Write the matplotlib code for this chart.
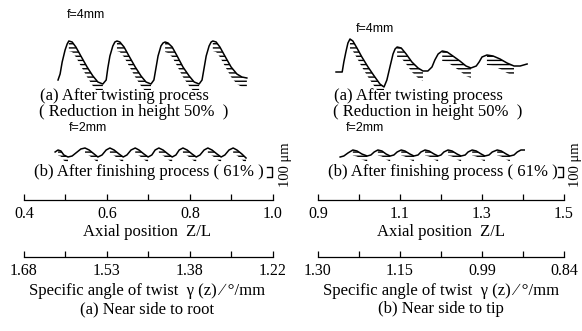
import numpy as np
import matplotlib
matplotlib.use("Agg")
import matplotlib.pyplot as plt

plt.rcParams['font.family'] = ['Liberation Serif', 'DejaVu Serif']
plt.rcParams['hatch.linewidth'] = 1.0

W, H = 582, 331

# surface profiles: axial position Z/L, height in um
# (a) near root, after twisting
root_twist_z = [0.482, 0.487, 0.492, 0.499, 0.504, 0.508, 0.516, 0.525, 0.537, 0.552, 0.566, 0.578, 0.590,
                0.598, 0.602, 0.607, 0.614, 0.619, 0.624, 0.631, 0.641, 0.653, 0.668, 0.682, 0.694, 0.706,
                0.713, 0.718, 0.723, 0.730, 0.735, 0.740, 0.747, 0.757, 0.769, 0.783, 0.798, 0.810, 0.822,
                0.829, 0.834, 0.839, 0.846, 0.851, 0.855, 0.863, 0.872, 0.884, 0.899, 0.913, 0.925, 0.937]
root_twist_h = [50, 110, 230, 350, 410, 440, 430, 380, 290, 180, 90, 30, 10,
                50, 170, 290, 390, 430, 440, 430, 380, 290, 180, 90, 30, 10,
                50, 170, 290, 390, 420, 430, 420, 380, 290, 180, 90, 30, 10,
                50, 170, 290, 390, 430, 440, 430, 380, 290, 180, 110, 80, 70]
# (a) near root, after finishing
root_fin_z = [0.475, 0.482, 0.489, 0.496, 0.506, 0.516, 0.528, 0.537, 0.547, 0.557, 0.569, 0.578,
              0.588, 0.598, 0.607, 0.617, 0.629, 0.639, 0.648, 0.658, 0.668, 0.677, 0.689, 0.699,
              0.708, 0.716, 0.725, 0.735, 0.747, 0.757, 0.766, 0.774, 0.783, 0.793, 0.805, 0.815,
              0.824, 0.834, 0.843, 0.853, 0.865, 0.875, 0.884, 0.894, 0.904, 0.913, 0.925, 0.935]
root_fin_h = [80, 100, 90, 50, 30, 40, 80, 110, 120, 100, 60, 30,
              50, 100, 120, 100, 60, 30, 50, 100, 120, 100, 60, 30,
              50, 100, 120, 100, 60, 30, 50, 100, 120, 100, 60, 30,
              50, 100, 120, 100, 60, 30, 50, 100, 120, 100, 60, 20]
# (b) near tip, after twisting
tip_twist_z = [0.944, 0.959, 0.963, 0.968, 0.973, 0.978, 0.985, 0.995, 1.007, 1.022, 1.037, 1.051, 1.061,
               1.068, 1.076, 1.083, 1.088, 1.093, 1.103, 1.115, 1.129, 1.144, 1.156, 1.168, 1.178, 1.185,
               1.193, 1.203, 1.215, 1.229, 1.246, 1.261, 1.273, 1.286, 1.293, 1.300, 1.312, 1.327, 1.344,
               1.361, 1.378, 1.393, 1.410]
tip_twist_h = [130, 130, 230, 330, 420, 460, 440, 370, 280, 180, 90, 10, -20,
               50, 190, 310, 360, 380, 370, 310, 230, 170, 140, 140, 180, 250,
               310, 340, 330, 290, 240, 190, 170, 190, 230, 280, 300, 290, 260,
               220, 190, 190, 210]
# (b) near tip, after finishing
tip_fin_z = [0.954, 0.963, 0.973, 0.985, 0.995, 1.007, 1.020, 1.029, 1.037, 1.046, 1.056, 1.066, 1.076,
             1.085, 1.093, 1.103, 1.112, 1.124, 1.134, 1.144, 1.151, 1.161, 1.171, 1.183, 1.193,
             1.200, 1.207, 1.217, 1.227, 1.239, 1.249, 1.259, 1.266, 1.276, 1.286, 1.298, 1.307,
             1.317, 1.325, 1.337, 1.347, 1.359, 1.368, 1.378, 1.386, 1.395, 1.403]
tip_fin_h = [30, 40, 70, 100, 90, 60, 40, 50, 80, 100, 90, 60, 40,
             50, 80, 100, 90, 60, 40, 50, 80, 100, 90, 60, 40,
             50, 80, 100, 90, 60, 40, 50, 80, 100, 90, 60, 40,
             50, 80, 100, 90, 60, 40, 50, 80, 100, 100]

# scales
root_axial = [0.4, 0.5, 0.6, 0.7, 0.8, 0.9, 1.0]
root_axial_lbl = ['0.4', '', '0.6', '', '0.8', '', '1.0']
root_gamma_lbl = ['1.68', '', '1.53', '', '1.38', '', '1.22']
tip_axial = [0.9, 1.0, 1.1, 1.2, 1.3, 1.4, 1.5]
tip_axial_lbl = ['0.9', '', '1.1', '', '1.3', '', '1.5']
tip_gamma_lbl = ['1.30', '', '1.15', '', '0.99', '', '0.84']
scale_bar_um = 100

fig = plt.figure(figsize=(W / 100, H / 100), dpi=100)


def box(x0, x1, y_top, y_bot):
    return [x0 / W, 1 - y_bot / H, (x1 - x0) / W, (y_bot - y_top) / H]


def txt(x, y, s, **kw):
    kw.setdefault('ha', 'center')
    kw.setdefault('va', 'center')
    kw.setdefault('fontsize', 12)
    fig.text(x / W, 1 - y / H, s, **kw)


def profile(rect, lim, ylim, z, h, band):
    ax = fig.add_axes(rect)
    ax.set_xlim(lim)
    ax.set_ylim(ylim)
    ax.axis('off')
    z = np.array(z)
    h = np.array(h)
    ax.plot(z, h, color='k', lw=1.1, solid_joinstyle='round')
    # hatch strokes hang under the falling flank of every tooth
    d = np.diff(h)
    m = np.zeros(len(h), bool)
    m[:-1] |= d < 0
    m[1:] |= d < 0
    ax.fill_between(z, h, h - band, where=m, facecolor='none', edgecolor='k',
                    hatch='----', linewidth=0)
    return ax


def scale(rect, lim, ticks, labels):
    ax = fig.add_axes(rect)
    ax.set_xlim(lim)
    ax.set_xticks(ticks)
    ax.set_xticklabels(labels)
    ax.set_yticks([])
    for s in ['top', 'left', 'right']:
        ax.spines[s].set_visible(False)
    ax.spines['bottom'].set_linewidth(0.9)
    ax.tick_params(axis='x', direction='in', length=4, width=0.9, pad=4, labelsize=11.5)
    ax.patch.set_visible(False)


panels = [
    (24, 273, (0.4, 1.0), root_twist_z, root_twist_h, root_fin_z, root_fin_h,
     root_axial, root_axial_lbl, root_gamma_lbl, '(a) Near side to root', 147, 86, 15, 88, 285),
    (318, 564, (0.9, 1.5), tip_twist_z, tip_twist_h, tip_fin_z, tip_fin_h,
     tip_axial, tip_axial_lbl, tip_gamma_lbl, '(b) Near side to tip', 441, 375, 29, 365, 576),
]

for (x0, x1, lim, tz, th, fz, fh, ticks, albl, glbl, title, cx, f4x, f4y, f2x, umx) in panels:
    profile(box(x0, x1, 30, 90), lim, (-50, 550), tz, th, 100)
    ax_b = profile(box(x0, x1, 135, 180), lim, (-200, 250), fz, fh, 55)
    # 100 um scale bar
    bx = lim[1] - (lim[1] - lim[0]) * 0.004
    bw = (lim[1] - lim[0]) * 0.02
    ax_b.plot([bx - bw, bx, bx, bx - bw], [-70, -70, -70 - scale_bar_um, -70 - scale_bar_um],
              color='k', lw=1.0, clip_on=False)
    txt(umx, 165, '100 μm', rotation=90, fontsize=10.5)

    txt(f4x, f4y, 'f=4mm', family='Liberation Sans', fontsize=9)
    txt(x0 + 16, 96, '(a) After twisting process', ha='left')
    txt(x0 + 15, 112, '( Reduction in height 50%  )', ha='left')
    txt(f2x, 128, 'f=2mm', family='Liberation Sans', fontsize=9)
    txt(x0 + 10, 172, '(b) After finishing process ( 61% )', ha='left')

    scale(box(x0, x1, 190, 200), lim, ticks, albl)
    txt(cx, 232, 'Axial position  Z/L')
    scale(box(x0, x1, 247, 257), lim, ticks, glbl)
    txt(cx, 291, 'Specific angle of twist  γ (z) ∕ °/mm')
    txt(cx, 309, title)

fig.savefig('out.png', dpi=100, facecolor='white')
